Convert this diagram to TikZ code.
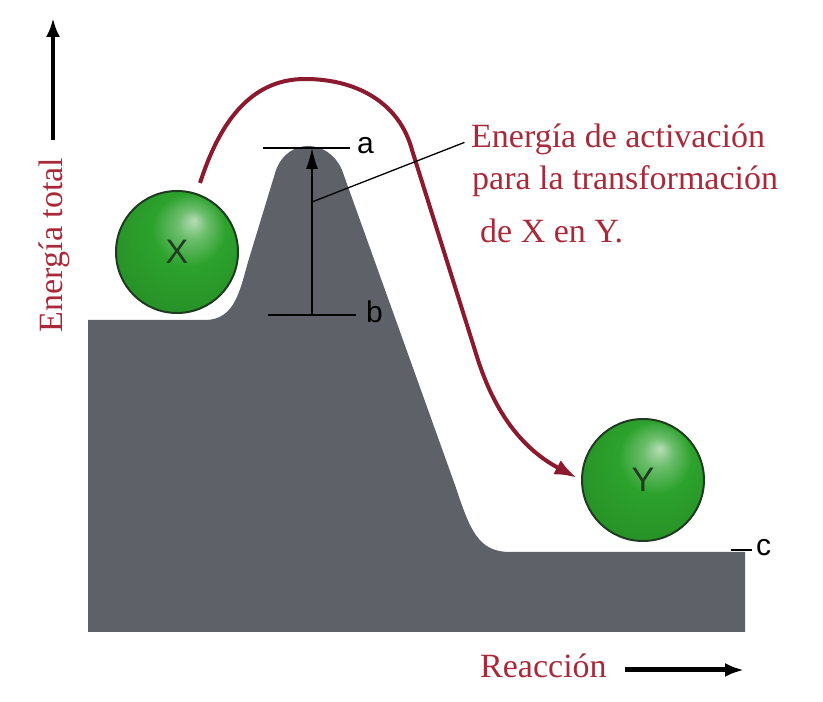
\documentclass[tikz,border=0pt]{standalone}
\usepackage{fontspec}
\setmainfont{Liberation Serif}
\setsansfont{Liberation Sans}
\usetikzlibrary{arrows.meta}
\definecolor{hillgray}{HTML}{5F6169}
\definecolor{pathred}{HTML}{8C1A2E}
\definecolor{labelred}{HTML}{A82A3A}
\definecolor{ballgreen}{HTML}{2CA22C}
\definecolor{ballhi}{HTML}{CFE8CF}
\definecolor{balldark}{HTML}{1B6A1B}
\definecolor{ballrim}{HTML}{203C20}
\pgfdeclareradialshading{greensphere}{\pgfpoint{7bp}{13bp}}{%
  color(0bp)=(ballhi!85!ballgreen); color(6bp)=(ballhi!40!ballgreen); color(15bp)=(ballgreen);
  color(34bp)=(ballgreen!88!black); color(50bp)=(balldark)}
\tikzset{
  sphere/.style={
    circle,
    minimum size=122pt,
    inner sep=0pt,
    shading=greensphere,
    draw=ballrim,
    line width=2pt,
    font=\sffamily\fontsize{34}{34}\selectfont,
    text=ballrim
  },
  note/.style={
    text=labelred,
    inner sep=0pt,
    font=\fontsize{34}{40}\selectfont
  },
  levellabel/.style={
    anchor=west,
    inner sep=0pt,
    font=\sffamily\fontsize{30}{30}\selectfont
  },
  levelline/.style={line width=2pt},
  leader/.style={line width=1.3pt},
  axisarrow/.style={
    -{Latex[length=19pt,width=14pt]},
    line width=4pt
  },
  actarrow/.style={
    -{Latex[length=21pt,width=12pt]},
    line width=1.5pt
  },
  reactionpath/.style={
    -{Latex[length=22pt,width=16pt]},
    line width=4pt,
    draw=pathred
  }
}
\begin{document}
\begin{tikzpicture}[x=1pt,y=1pt]
\useasboundingbox (0,0) rectangle (823,702);
\fill[hillgray] (88,70) -- (88,382) -- (205,382)
  .. controls (235,382) and (240,412) .. (248,440) -- (276,532)
  .. controls (288,564) and (328,564) .. (342,532) -- (455,217)
  .. controls (470,172) and (478,150) .. (510,150) -- (745,150) -- (745,70) -- cycle;
\node[sphere] (X) at (177,450) {X};
\node[sphere] (Y) at (643,222) {Y};
\coordinate (xstart) at (200,519);
\draw[reactionpath, shorten >=5pt] (xstart) to[out=72,in=180] (305,623)
  to[out=0,in=105] (412,552) -- (478,342) to[out=-72,in=152] (Y.west);
\coordinate (aleft) at (263,554);
\coordinate (bleft) at (268,387);
\coordinate (cleft) at (731,152);
\coordinate (atop) at (312,554);
\coordinate (bbase) at (312,387);
\node[levellabel] (la) at (357,556) {a};
\node[levellabel] (lb) at (366,390) {b};
\node[levellabel] (lc) at (756,154) {c};
\draw[levelline, shorten >=7pt] (aleft) -- (aleft -| la.west);
\draw[levelline, shorten >=10pt] (bleft) -- (bleft -| lb.west);
\draw[levelline, shorten >=4pt] (cleft) -- (cleft -| lc.west);
\draw[actarrow] (bbase) -- (atop);
\node[note, anchor=base west] (t1) at (471,554) {Energía de activación};
\node[note, anchor=base west] (t2) at (472,512) {para la transformación};
\node[note, anchor=base west] (t3) at (480,459) {de X en Y.};
\coordinate (lead) at (312,500);
\draw[leader, shorten >=7pt] (lead) -- (t1.west);
\node[note, rotate=90] (etot) at (54,457) {Energía total};
\coordinate (e0) at (53,562);
\coordinate (e1) at (53,684);
\draw[axisarrow] (e0) -- (e1);
\node[note, anchor=base west] (reac) at (480,24) {Reacción};
\coordinate (r0) at (625,32);
\coordinate (r1) at (744,32);
\draw[axisarrow, line width=5pt] (r0) -- (r1);
\end{tikzpicture}
\end{document}
